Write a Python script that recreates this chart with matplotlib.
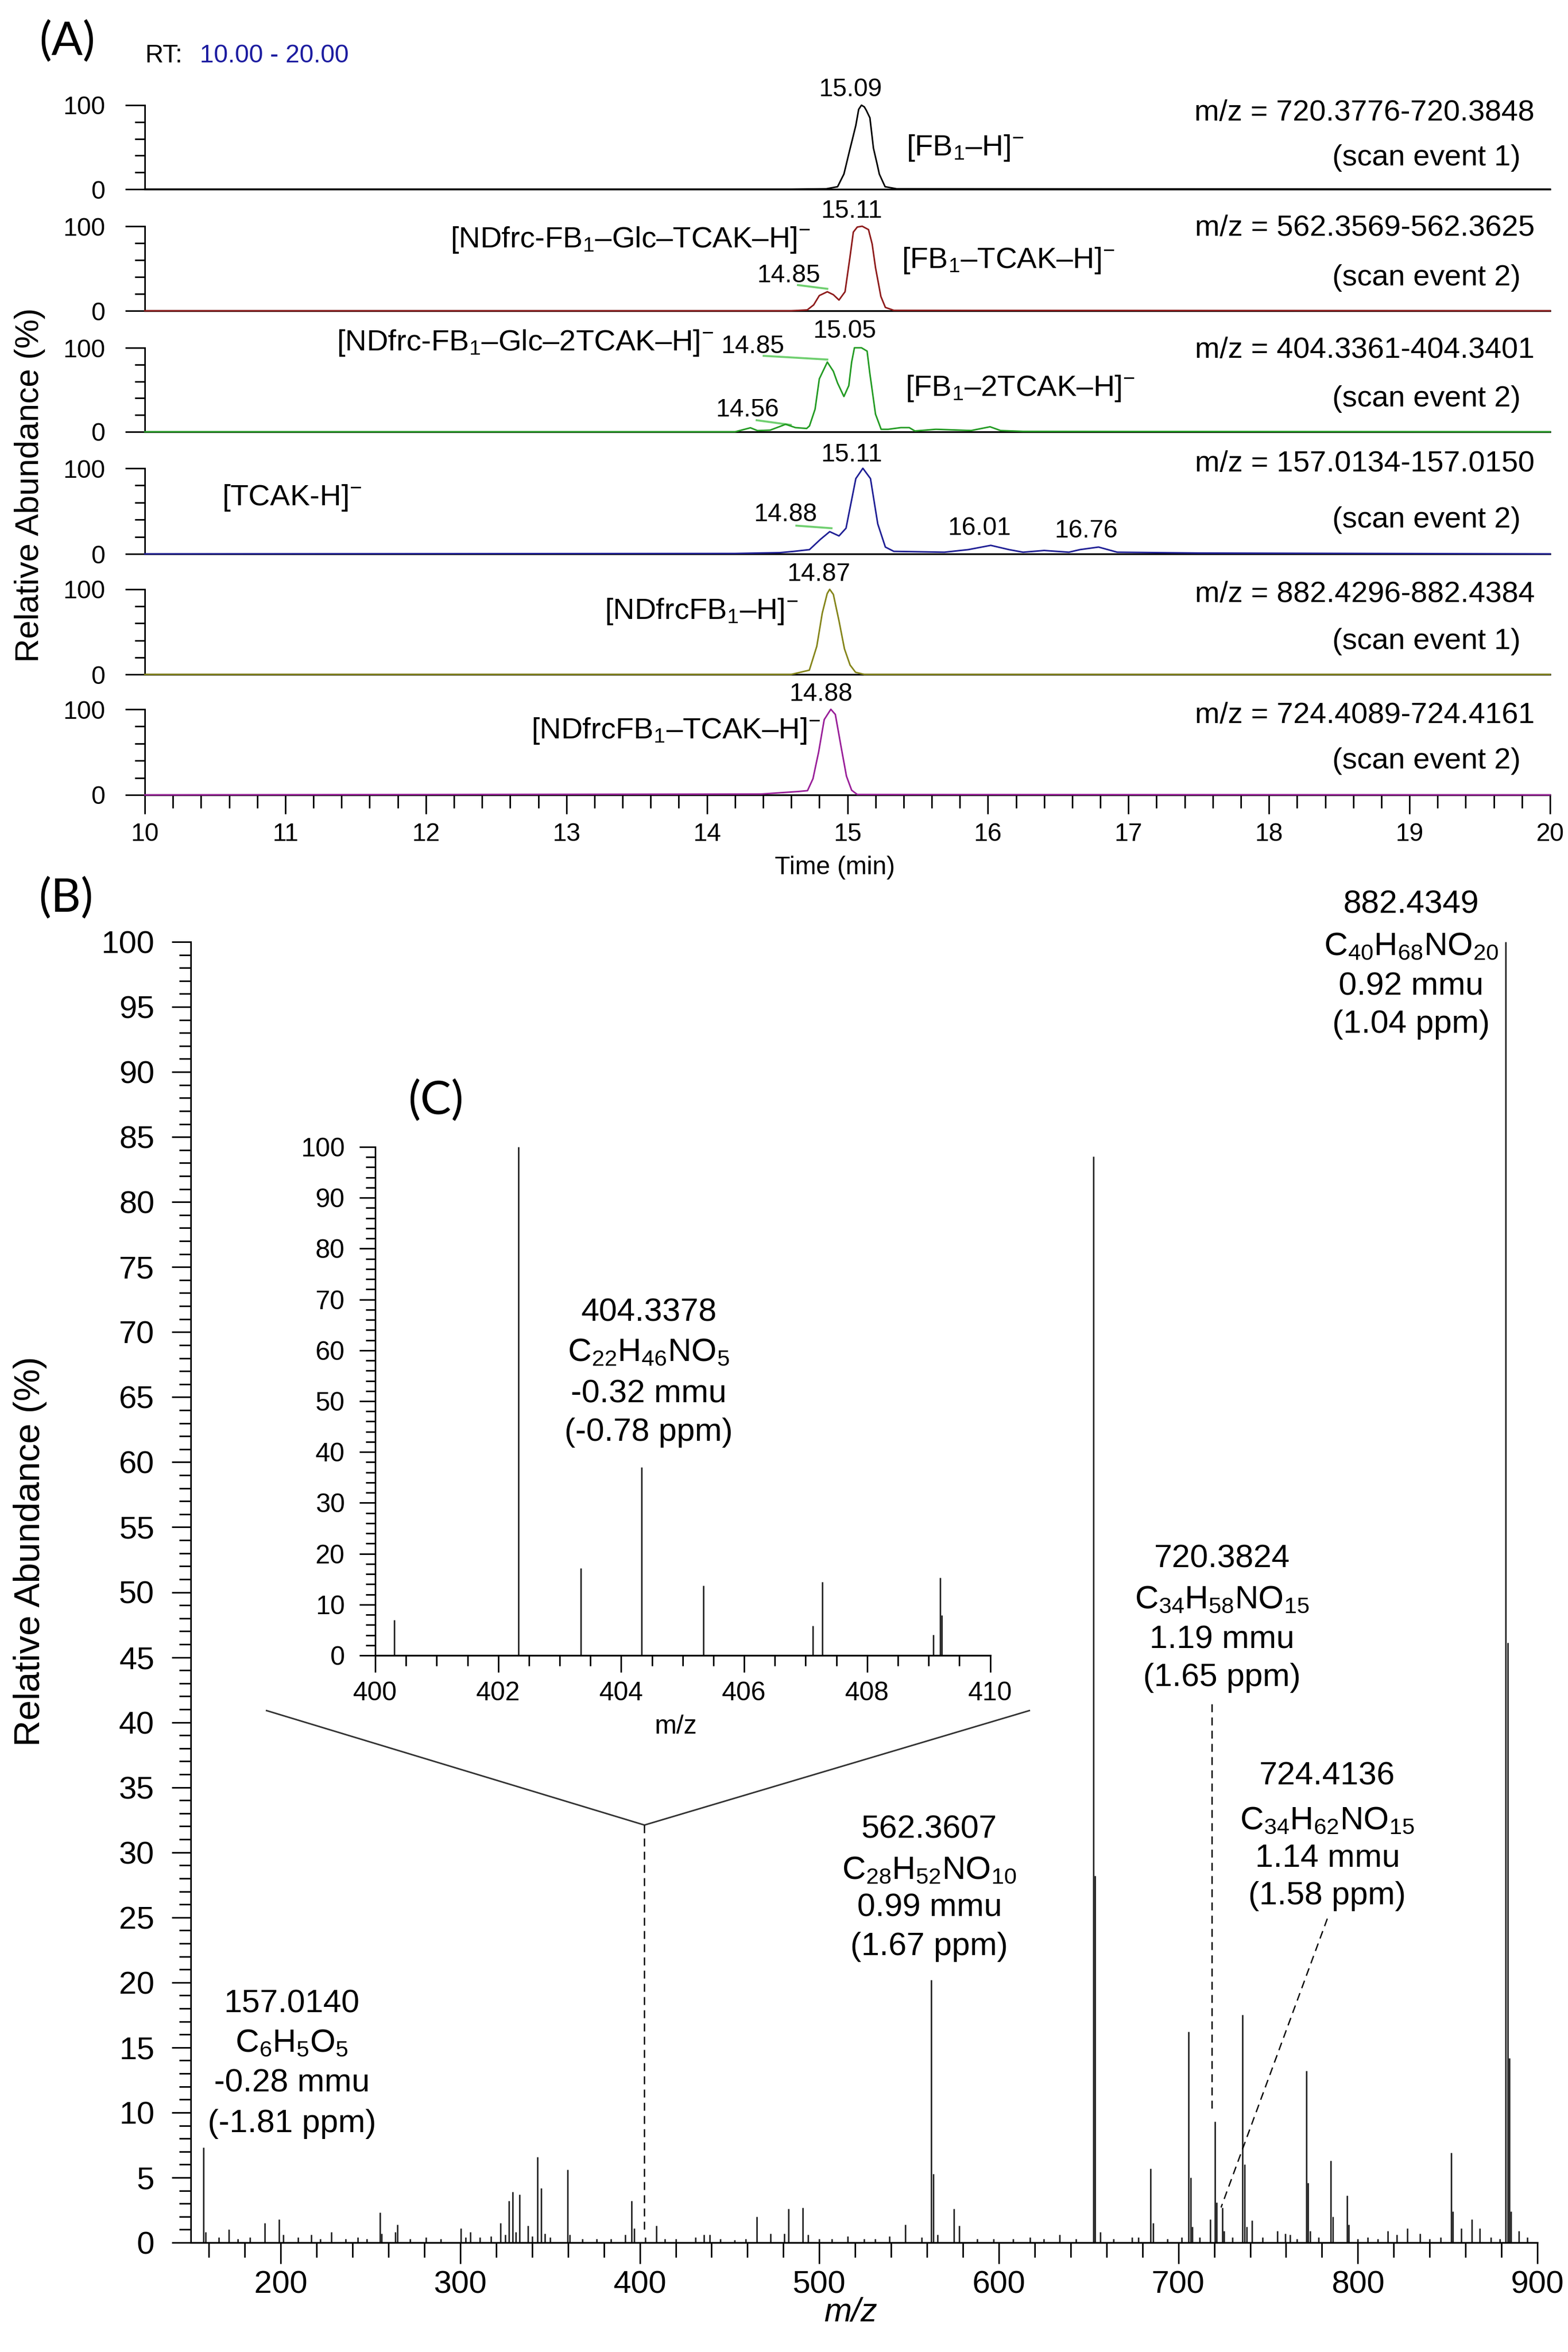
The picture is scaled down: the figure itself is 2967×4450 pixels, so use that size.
import matplotlib.pyplot as plt
from matplotlib.ticker import MultipleLocator

plt.rcParams['font.family'] = ['Liberation Sans', 'DejaVu Sans']
plt.rcParams['mathtext.fontset'] = 'custom'
plt.rcParams['mathtext.rm'] = 'Liberation Sans'
plt.rcParams['mathtext.it'] = 'Liberation Sans:italic'
plt.rcParams['mathtext.bf'] = 'Liberation Sans:bold'

# ---------------- data: extracted ion chromatograms (panel A) ----------------
t_fb1 = [10.0, 14.60, 14.85, 14.93, 14.975, 15.02, 15.06, 15.08, 15.10, 15.12, 15.134, 15.16,
         15.185, 15.21, 15.227, 15.268, 15.35, 20.0]
i_fb1 = [0, 0, 0.5, 3, 18, 49, 76, 95, 100, 98, 94, 85, 49, 31, 18, 3, 0.5, 0]

t_tcak1 = [10.0, 14.60, 14.714, 14.76, 14.80, 14.857, 14.90, 14.94, 14.983, 15.017, 15.042,
           15.07, 15.105, 15.15, 15.176, 15.20, 15.238, 15.27, 15.33, 20.0]
i_tcak1 = [0, 0, 1, 7, 18, 22.5, 19, 12.7, 22.5, 62, 93, 99, 100, 96, 79, 51, 17, 4, 0.5, 0]

t_tcak2 = [10.0, 14.20, 14.31, 14.36, 14.45, 14.53, 14.56, 14.63, 14.71, 14.73, 14.77, 14.80,
           14.857, 14.90, 14.93, 14.975, 15.01, 15.03, 15.05, 15.10, 15.14, 15.16, 15.20,
           15.24, 15.29, 15.38, 15.44, 15.48, 15.63, 15.88, 16.015, 16.09, 16.25, 20.0]
i_tcak2 = [0, 0, 4.8, 1.4, 2, 7, 9, 5, 4, 7, 27, 63, 83, 72, 58, 42, 55, 83, 100, 100, 96,
           69, 21, 3, 3, 5, 5, 1, 3, 1.5, 6, 1.5, 0.5, 0]

t_tcak = [10.0, 14.20, 14.52, 14.62, 14.73, 14.808, 14.874, 14.94, 14.99, 15.06, 15.11, 15.164,
          15.216, 15.27, 15.33, 15.69, 15.86, 16.02, 16.15, 16.25, 16.40, 16.576, 16.655,
          16.787, 16.92, 17.5, 20.0]
i_tcak = [0, 0.5, 1.5, 3, 5, 17, 26, 21, 30, 88, 100, 88, 35, 8, 3, 2, 5, 10, 5, 2, 4, 2, 5,
          8, 2, 1, 0]

t_ndfb1 = [10.0, 14.60, 14.729, 14.782, 14.821, 14.856, 14.874, 14.90, 14.94, 14.979, 15.019,
           15.058, 15.12, 20.0]
i_ndfb1 = [0, 0, 5, 33, 72, 95, 100, 94, 63, 30, 11, 2.5, 0, 0]

t_ndtcak = [10.0, 14.385, 14.65, 14.716, 14.755, 14.795, 14.835, 14.882, 14.914, 14.953,
            14.993, 15.03, 15.07, 20.0]
i_ndtcak = [0, 1, 4, 5, 19, 50, 88, 100, 94, 58, 22, 5.5, 0.5, 0]

traces = [(t_fb1, i_fb1), (t_tcak1, i_tcak1), (t_tcak2, i_tcak2),
          (t_tcak, i_tcak), (t_ndfb1, i_ndfb1), (t_ndtcak, i_ndtcak)]
trace_colors = ['black', '#8e1b1b', '#239b23', '#1f1f95', '#85851a', '#991f99']
mz_ranges = ['720.3776-720.3848', '562.3569-562.3625', '404.3361-404.3401',
             '157.0134-157.0150', '882.4296-882.4384', '724.4089-724.4161']
scan_events = [1, 2, 2, 2, 1, 2]

# ---------------- data: full scan spectrum (panel B) ----------------
spec_mz = [157.01, 158.0, 165.5, 171.0, 176.0, 183.0, 191.0, 199.0, 201.4, 209.5, 216.9,
           222.0, 228.3, 236.0, 243.0, 248.0, 255.2, 256.3, 263.7, 265.0, 272.0, 281.0,
           289.0, 300.3, 303.0, 305.7, 311.0, 317.0, 322.3, 325.0, 327.2, 329.2, 331.0,
           333.1, 337.7, 340.0, 343.1, 345.1, 347.0, 350.0, 359.7, 361.0, 368.0, 376.0,
           384.0, 391.9, 395.5, 397.0, 403.0, 409.2, 414.0, 420.0, 430.9, 435.8, 439.0,
           445.0, 452.8, 459.0, 465.1, 472.9, 480.6, 482.7, 490.7, 493.7, 500.0, 507.0,
           515.9, 525.0, 531.0, 539.0, 548.0, 557.0, 562.36, 563.36, 566.0, 574.9, 578.0,
           588.0, 597.0, 608.0, 617.3, 625.0, 634.0, 643.0, 652.7, 653.7, 656.5, 664.0,
           674.2, 677.6, 684.5, 686.0, 694.0, 702.0, 705.8, 706.8, 707.7, 712.0, 717.9,
           720.38, 721.4, 724.41, 725.4, 730.0, 735.8, 736.8, 738.0, 741.0, 747.0, 755.1,
           759.7, 762.3, 766.0, 771.3, 772.3, 773.3, 778.0, 784.9, 786.0, 793.9, 795.0,
           800.0, 805.4, 811.0, 816.7, 821.8, 827.7, 834.7, 840.0, 846.0, 851.9, 852.9,
           857.7, 863.6, 868.0, 874.0, 879.0, 882.43, 883.44, 884.44, 885.4, 889.8, 894.5]
spec_int = [7.3, 0.8, 0.4, 1.0, 0.3, 0.4, 1.5, 1.8, 0.6, 0.4, 0.6, 0.3, 0.8, 0.3, 0.4, 0.3,
            2.3, 0.7, 0.8, 1.4, 0.3, 0.4, 0.3, 1.1, 0.4, 0.8, 0.4, 0.5, 1.5, 0.6, 3.2, 3.9,
            0.8, 3.7, 1.3, 0.5, 6.6, 4.2, 0.7, 0.4, 5.6, 0.6, 0.3, 0.3, 0.3, 0.6, 3.2, 1.1,
            0.4, 1.3, 0.3, 0.3, 0.4, 0.6, 0.6, 0.3, 0.2, 0.3, 2.0, 0.7, 0.7, 2.6, 2.7, 0.6,
            0.3, 0.3, 0.5, 0.3, 0.3, 0.5, 1.4, 0.4, 20.2, 5.3, 0.6, 2.6, 1.3, 0.3, 0.3, 0.3,
            0.4, 0.3, 0.6, 0.3, 83.5, 28.2, 0.8, 0.3, 0.4, 0.4, 5.7, 1.5, 0.3, 0.4, 16.2,
            5.0, 1.2, 0.4, 1.8, 9.3, 3.1, 2.7, 0.9, 0.4, 17.5, 6.0, 1.2, 1.7, 0.4, 0.9, 0.7,
            0.6, 0.3, 13.2, 4.6, 0.9, 0.4, 6.3, 2.0, 3.6, 1.4, 0.3, 0.4, 0.3, 0.9, 0.6, 1.1,
            0.7, 0.3, 0.4, 6.9, 2.4, 1.1, 1.8, 1.1, 0.4, 0.3, 100, 46.1, 14.2, 2.4, 0.9, 0.4]

# ---------------- data: zoomed spectrum (panel C) ----------------
inset_mz = [400.31, 402.33, 403.34, 404.33, 405.34, 407.12, 407.27, 409.08, 409.19, 409.21]
inset_int = [7.0, 100, 17.2, 37.0, 13.7, 5.8, 14.5, 4.1, 15.3, 7.9]

# ---------------- figure ----------------
W, H, DPI = 2967, 4450, 300


def fx(px):
    return px / W


def fy(py):
    return 1 - py / H


fig = plt.figure(figsize=(W / DPI, H / DPI), dpi=DPI)
fig.patch.set_facecolor('white')

# panel A: six stacked chromatograms
panel_px = [(199, 358), (428, 588), (658, 817), (886, 1048), (1115, 1276), (1342, 1504)]
a_left, a_right = 274, 2933

peak_labels = [
    [('15.09', 15.02, 111)],
    [('15.11', 15.03, 110), ('14.85', 14.58, 34)],
    [('15.05', 14.98, 112), ('14.85', 14.325, 94), ('14.56', 14.29, 18)],
    [('15.11', 15.03, 108), ('14.88', 14.56, 38), ('16.01', 15.94, 22), ('16.76', 16.70, 19)],
    [('14.87', 14.795, 110)],
    [('14.88', 14.81, 110)],
]
sub1 = r'$_\mathregular{1}$'
supm = r'$^\mathregular{-}$'
ion_labels = [
    [('[FB' + sub1 + '–H]' + supm, 15.42, 40, 'left')],
    [('[NDfrc-FB' + sub1 + '–Glc–TCAK–H]' + supm, 14.74, 75, 'right'),
     ('[FB' + sub1 + '–TCAK–H]' + supm, 15.385, 50.6, 'left')],
    [('[NDfrc-FB' + sub1 + '–Glc–2TCAK–H]' + supm, 14.047, 97, 'right'),
     ('[FB' + sub1 + '–2TCAK–H]' + supm, 15.41, 43, 'left')],
    [('[TCAK-H]' + supm, 10.55, 57, 'left')],
    [('[NDfrcFB' + sub1 + '–H]' + supm, 14.648, 65, 'right')],
    [('[NDfrcFB' + sub1 + '–TCAK–H]' + supm, 14.81, 66, 'right')],
]
leaders = [
    [],
    [((14.648, 14.857), (30.4, 26))],
    [((14.404, 14.857), (90.4, 86)), ((14.354, 14.597), (13.8, 8.2))],
    [((14.637, 14.887), (33, 30))],
    [],
    [],
]
mz_label_y = [(82, 28), (89, 30), (88, 30), (96, 31), (85, 30), (84, 31)]

for k, (top, bot) in enumerate(panel_px):
    ax = fig.add_axes([fx(a_left), fy(bot), (a_right - a_left) / W, (bot - top) / H])
    ax.set_facecolor('none')
    t, inten = traces[k]
    ax.plot(t, inten, color=trace_colors[k], lw=0.7, zorder=3, clip_on=False)
    ax.set_xlim(10, 20)
    ax.set_ylim(0, 100)
    for s in ['top', 'right']:
        ax.spines[s].set_visible(False)
    ax.spines['left'].set_linewidth(0.7)
    ax.spines['bottom'].set_linewidth(0.8)
    ax.set_yticks([0, 100])
    ax.yaxis.set_minor_locator(MultipleLocator(20))
    ax.tick_params(axis='y', which='major', length=9, width=0.7, pad=9, labelsize=11.5)
    ax.tick_params(axis='y', which='minor', length=4.6, width=0.7)
    if k == len(panel_px) - 1:
        ax.set_xticks(range(10, 21))
        ax.xaxis.set_minor_locator(MultipleLocator(0.2))
        ax.tick_params(axis='x', which='major', length=8.6, width=0.7, pad=4, labelsize=11.5)
        ax.tick_params(axis='x', which='minor', length=6, width=0.7)
    else:
        ax.tick_params(axis='x', which='both', bottom=False, labelbottom=False)

    for txt, tx, ty in peak_labels[k]:
        ax.text(tx, ty, txt, ha='center', va='baseline', fontsize=11.5)
    for txt, tx, ty, ha in ion_labels[k]:
        ax.text(tx, ty, txt, ha=ha, va='baseline', fontsize=13.5)
    for xs, ys in leaders[k]:
        ax.plot(xs, ys, color='#6fcf6f', lw=0.9, clip_on=False, zorder=2)
    y_mz, y_scan = mz_label_y[k]
    ax.text(19.89, y_mz, 'm/z = ' + mz_ranges[k], ha='right', va='baseline', fontsize=13.5)
    ax.text(19.79, y_scan, '(scan event %d)' % scan_events[k], ha='right', va='baseline',
            fontsize=13.5)

fig.text(fx(127), fy(79), '(A)', ha='center', va='center', fontsize=21, family='Lato')
fig.text(fx(274), fy(118), 'RT:', ha='left', va='baseline', fontsize=11.5)
fig.text(fx(378), fy(118), '10.00 - 20.00', ha='left', va='baseline', fontsize=11.5,
         color='#1c1ca0')
fig.text(fx(57), fy(918), 'Relative Abundance (%)', rotation=90, ha='center', va='center',
         fontsize=15)
fig.text(fx(1580), fy(1641), 'Time (min)', ha='center', va='center', fontsize=11.5)

# panel B: full scan spectrum
b_left, b_right, b_top, b_bot = 361.4, 2909, 1782, 4243
ax_b = fig.add_axes([fx(b_left), fy(b_bot), (b_right - b_left) / W, (b_bot - b_top) / H])
ax_b.set_facecolor('none')
ax_b.vlines(spec_mz, 0, spec_int, colors='#2a2a2a', lw=0.7)
ax_b.set_xlim(150, 900)
ax_b.set_ylim(0, 100)
for s in ['top', 'right']:
    ax_b.spines[s].set_visible(False)
ax_b.spines['left'].set_linewidth(0.7)
ax_b.spines['bottom'].set_linewidth(0.8)
ax_b.set_xticks(range(200, 901, 100))
ax_b.xaxis.set_minor_locator(MultipleLocator(20))
ax_b.set_yticks(range(0, 101, 5))
ax_b.yaxis.set_minor_locator(MultipleLocator(1))
ax_b.tick_params(axis='x', which='major', length=9.6, width=0.7, pad=3, labelsize=14.5)
ax_b.tick_params(axis='x', which='minor', length=6.6, width=0.7)
ax_b.tick_params(axis='y', which='major', length=8.6, width=0.7, pad=8, labelsize=14.5)
ax_b.tick_params(axis='y', which='minor', length=5.3, width=0.7)

annotations_b = [
    (206.1, [17.7, 14.7, 11.6, 8.5],
     ['157.0140', r'C$_\mathregular{6}$H$_\mathregular{5}$O$_\mathregular{5}$',
      '-0.28 mmu', '(-1.81 ppm)']),
    (561.3, [31.1, 28.0, 25.1, 22.1],
     ['562.3607', r'C$_\mathregular{28}$H$_\mathregular{52}$NO$_\mathregular{10}$',
      '0.99 mmu', '(1.67 ppm)']),
    (724.4, [51.9, 48.8, 45.7, 42.8],
     ['720.3824', r'C$_\mathregular{34}$H$_\mathregular{58}$NO$_\mathregular{15}$',
      '1.19 mmu', '(1.65 ppm)']),
    (783.0, [35.2, 31.8, 28.9, 26.0],
     ['724.4136', r'C$_\mathregular{34}$H$_\mathregular{62}$NO$_\mathregular{15}$',
      '1.14 mmu', '(1.58 ppm)']),
    (829.6, [102.2, 99.0, 95.9, 93.0],
     ['882.4349', r'C$_\mathregular{40}$H$_\mathregular{68}$NO$_\mathregular{20}$',
      '0.92 mmu', '(1.04 ppm)']),
]
for xc, ys, lines in annotations_b:
    for yy, txt in zip(ys, lines):
        ax_b.text(xc, yy, txt, ha='center', va='baseline', fontsize=14.8)

# callout lines and dashed pointers
ax_b.plot([192.1, 402.6, 617.0], [40.9, 32.1, 40.9], color='#333333', lw=0.7, clip_on=False)
ax_b.plot([402.6, 402.6], [32.1, 0.8], color='black', lw=0.6, dashes=(6, 4))
ax_b.plot([718.8, 718.8], [41.4, 9.9], color='black', lw=0.6, dashes=(6, 4))
ax_b.plot([783.0, 723.8], [24.9, 2.7], color='black', lw=0.6, dashes=(6, 4))

fig.text(fx(125), fy(1700), '(B)', ha='center', va='center', fontsize=21, family='Lato')
fig.text(fx(57), fy(2935), 'Relative Abundance (%)', rotation=90, ha='center', va='center',
         fontsize=16.5)
fig.text(fx(1610), fy(4375), 'm/z', ha='center', va='center', fontsize=15, style='italic')

# panel C: inset zoom 400-410
c_left, c_right, c_top, c_bot = 710, 1873.5, 2170, 3132
ax_c = fig.add_axes([fx(c_left), fy(c_bot), (c_right - c_left) / W, (c_bot - c_top) / H])
ax_c.set_facecolor('none')
ax_c.vlines(inset_mz, 0, inset_int, colors='#2a2a2a', lw=0.7)
ax_c.set_xlim(400, 410)
ax_c.set_ylim(0, 100)
for s in ['top', 'right']:
    ax_c.spines[s].set_visible(False)
ax_c.spines['left'].set_linewidth(0.7)
ax_c.spines['bottom'].set_linewidth(0.8)
ax_c.set_xticks(range(400, 411, 2))
ax_c.xaxis.set_minor_locator(MultipleLocator(0.5))
ax_c.set_yticks(range(0, 101, 10))
ax_c.yaxis.set_minor_locator(MultipleLocator(2))
ax_c.tick_params(axis='x', which='major', length=7.7, width=0.7, pad=4, labelsize=12)
ax_c.tick_params(axis='x', which='minor', length=4.8, width=0.7)
ax_c.tick_params(axis='y', which='major', length=7.3, width=0.7, pad=6.5, labelsize=12)
ax_c.tick_params(axis='y', which='minor', length=4.3, width=0.7)

inset_lines = ['404.3378', r'C$_\mathregular{22}$H$_\mathregular{46}$NO$_\mathregular{5}$',
               '-0.32 mmu', '(-0.78 ppm)']
for yy, txt in zip([65.8, 58.0, 49.7, 42.2], inset_lines):
    ax_c.text(404.45, yy, txt, ha='center', va='baseline', fontsize=14.8)

fig.text(fx(1279), fy(3280), 'm/z', ha='center', va='baseline', fontsize=12)
fig.text(fx(825), fy(2083), '(C)', ha='center', va='center', fontsize=21, family='Lato')

fig.savefig('out.png', dpi=DPI)
